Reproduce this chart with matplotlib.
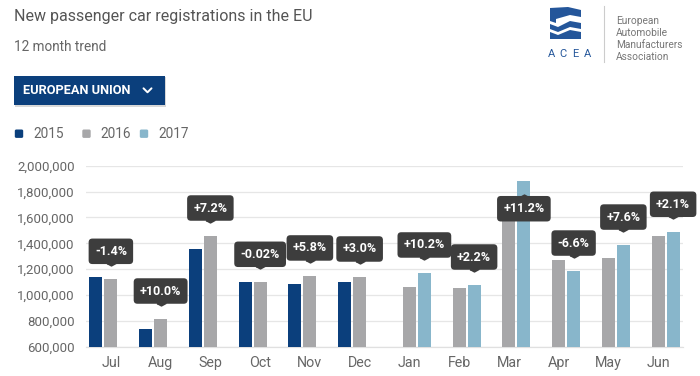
import numpy as np
import matplotlib.pyplot as plt
from matplotlib.patches import Rectangle, FancyBboxPatch, Polygon
from matplotlib.ticker import FuncFormatter
import matplotlib.transforms as mtransforms

plt.rcParams['font.family'] = ['Roboto', 'DejaVu Sans']

# data
months = ['Jul', 'Aug', 'Sep', 'Oct', 'Nov', 'Dec', 'Jan', 'Feb', 'Mar', 'Apr', 'May', 'Jun']
y2015 = [1137000, 737000, 1356000, 1098000, 1083000, 1103000, None, None, None, None, None, None]
y2016 = [1121000, 814000, 1456000, 1098000, 1147000, 1139000, 1062000, 1054000, 1694000, 1268000, 1284000, 1454000]
y2017 = [None, None, None, None, None, None, 1170000, 1077000, 1884000, 1185000, 1386000, 1485000]
changes = ['-1.4%', '+10.0%', '+7.2%', '-0.02%', '+5.8%', '+3.0%',
           '+10.2%', '+2.2%', '+11.2%', '-6.6%', '+7.6%', '+2.1%']
series_names = ['2015', '2016', '2017']
colors = ['#0b3f7c', '#a7a7a9', '#88b6cb']

W, H = 700, 376
fig = plt.figure(figsize=(7, 3.76), dpi=100)

# overlay in pixel coordinates for header, button, legend, logo
ov = fig.add_axes([0, 0, 1, 1])
ov.set_xlim(0, W)
ov.set_ylim(H, 0)
ov.axis('off')

ov.text(14, 17, 'New passenger car registrations in the EU', fontsize=11.5, color='#555555',
        va='center', ha='left')
ov.text(14, 47, '12 month trend', fontsize=9.8, color='#666666', va='center', ha='left')

# button
ov.add_patch(Rectangle((15, 77), 151, 29.5, facecolor='#d8d8d8', edgecolor='none'))
ov.add_patch(Rectangle((14, 76), 151, 29, facecolor='#0b3f7c', edgecolor='none'))
ov.text(23, 90.5, 'EUROPEAN UNION', fontsize=9.2, fontweight='bold', color='white',
        va='center', ha='left')
ov.plot([143.5, 147.5, 151.5], [88.3, 92.3, 88.3], color='white', lw=1.4,
        solid_capstyle='round', solid_joinstyle='round')

# legend
leg_x = [14, 81.5, 139]
for lx, name, c in zip(leg_x, series_names, colors):
    ov.add_patch(FancyBboxPatch((lx + 0.8, 129.5), 8.4, 8.4, boxstyle='round,pad=0,rounding_size=1.5',
                                facecolor=c, edgecolor='none'))
    ov.text(lx + 19, 133.5, name, fontsize=9.8, color='#666666', va='center', ha='left')

# ACEA logo
logo_blue = '#24569a'
ov.add_patch(Polygon([(550, 8), (568, 7), (581, 10), (581, 17), (570, 15), (556, 19), (556, 23), (550, 21)],
                     closed=True, facecolor=logo_blue, edgecolor='none'))
ov.add_patch(Polygon([(550, 24), (558, 27), (570, 21), (581, 23), (581, 29), (570, 27), (558, 32), (550, 29)],
                     closed=True, facecolor=logo_blue, edgecolor='none'))
ov.add_patch(Polygon([(550, 32), (558, 35), (570, 30), (581, 32), (581, 39), (550, 39)],
                     closed=True, facecolor=logo_blue, edgecolor='none'))
for lx, ch in zip([552, 563, 575, 587], 'ACEA'):
    ov.text(lx, 54, ch, fontsize=8, color=logo_blue, va='center', ha='center')
ov.plot([603.5, 603.5], [6, 62], color='#cccccc', lw=0.8)
for i, line in enumerate(['European', 'Automobile', 'Manufacturers', 'Association']):
    ov.text(616, 21.5 + i * 11.7, line, fontsize=7.3, color='#777777', va='center', ha='left')

# main chart
ax = fig.add_axes([86 / W, 1 - 346.7 / H, 597 / W, (346.7 - 165.7) / H])
ax.set_zorder(2)
ax.patch.set_alpha(0)

x = np.arange(len(months))
offsets = [-0.3015, 0.0, 0.3015]
bw = 0.262
for vals, off, c in zip([y2015, y2016, y2017], offsets, colors):
    xs = [xi + off for xi, v in zip(x, vals) if v is not None]
    hs = [v for v in vals if v is not None]
    ax.bar(xs, hs, width=bw, color=c, zorder=3)

ax.set_xlim(-0.5, len(months) - 0.5)
ax.set_ylim(600000, 2000000)
ax.set_yticks(np.arange(600000, 2000001, 200000))
ax.yaxis.set_major_formatter(FuncFormatter(lambda v, p: f'{int(v):,}'))
ax.set_xticks(x)
ax.set_xticklabels(months)
ax.tick_params(axis='y', length=0, pad=8, labelsize=9.5, labelcolor='#666666')
ax.tick_params(axis='x', length=0, pad=6.5, labelsize=10.3, labelcolor='#666666')
ax.grid(axis='y', color='#e6e6e6', lw=0.9, zorder=0)
for s in ['top', 'right', 'left']:
    ax.spines[s].set_visible(False)
ax.spines['bottom'].set_color('#e0e0e0')
ax.spines['bottom'].set_linewidth(0.9)

# callout labels pointing at the latest available bar
box_col = '#3d3d3d'
box = dict(boxstyle='round,pad=0.5,rounding_size=0.3', fc=box_col, ec='none')
down_tri = [(-1, 0), (1, 0), (0, -0.55), (-1, 0)]
up_tri = [(-1, 0), (1, 0), (0, 0.55), (-1, 0)]
for i, lab in enumerate(changes):
    if y2017[i] is not None:
        xp, yp = x[i] + offsets[2], y2017[i]
    else:
        xp, yp = x[i] + offsets[1], y2016[i]
    sign = -1 if i == 8 else 1  # no room above for March: flip below
    ax.annotate(lab, xy=(xp, yp), xytext=(0, sign * 15.5), textcoords='offset points',
                ha='center', va='bottom' if sign > 0 else 'top', fontsize=9,
                fontweight='bold', color='white', bbox=box, zorder=5, annotation_clip=False)
    tr = mtransforms.offset_copy(ax.transData, fig=fig, y=sign * 11.7, units='points')
    ax.plot([xp], [yp], transform=tr, marker=down_tri if sign > 0 else up_tri,
            markersize=6.5, color=box_col, zorder=5, clip_on=False)

fig.savefig('out.png', dpi=100, facecolor='white')
